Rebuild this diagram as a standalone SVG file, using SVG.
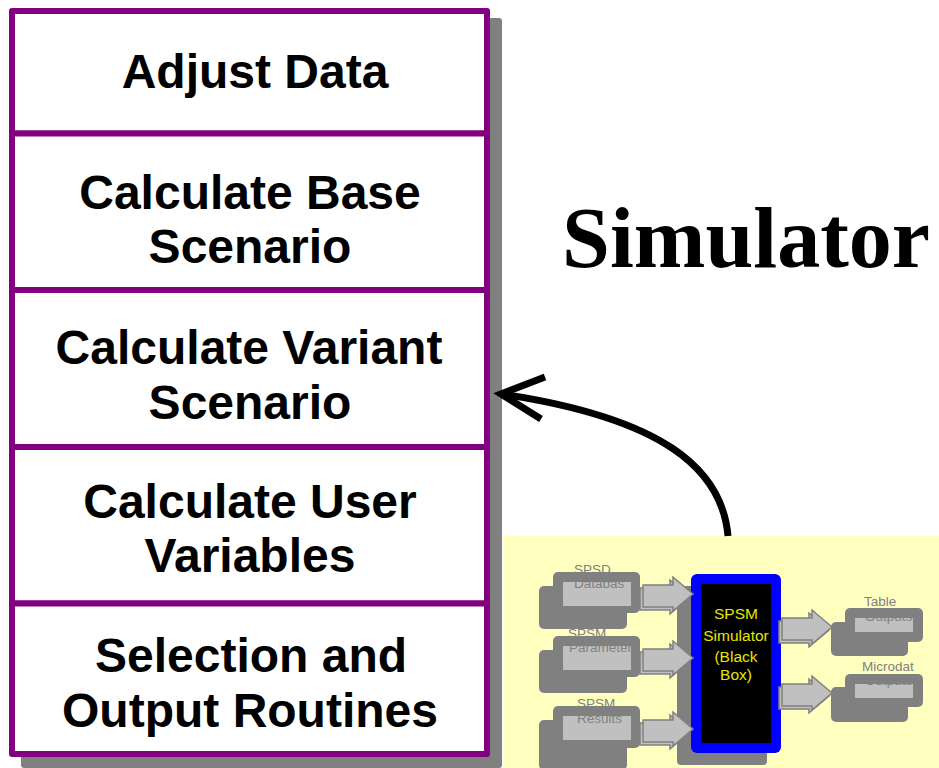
<svg xmlns="http://www.w3.org/2000/svg" width="939" height="768" viewBox="0 0 939 768">
<style>
.box{fill:#fff;stroke:#800080;stroke-width:6;stroke-linejoin:round}
.lbl{font-family:"Liberation Sans",Arial,sans-serif;font-weight:bold;font-size:48px;fill:#000;text-anchor:middle}
.title{font-family:"Liberation Serif","Times New Roman",serif;font-weight:bold;font-size:86px;fill:#000;text-anchor:middle}
.dk{fill:#808080}
.lt{fill:#C0C0C0}
.sm{font-family:"Liberation Sans",Arial,sans-serif;font-size:13.5px;fill:#808080}
.yl{font-family:"Liberation Sans",Arial,sans-serif;font-size:15.5px;fill:#E6E600;text-anchor:middle}
.blk{fill:#C0C0C0;stroke:#808080;stroke-width:1.5;stroke-linejoin:miter}
.conn{fill:none;stroke:#000;stroke-width:7}
</style>
<defs>
<path id="barrow" d="M0 0 L-20 -17 L-20 -9 L-50 -9 L-50 13 L-20 13 L-20 17 Z"/>
<g id="barrow3d">
<use href="#barrow" class="blk" transform="translate(-3,3)"/>
<use href="#barrow" class="blk"/>
</g>
</defs>
<rect width="939" height="768" fill="#fff"/>

<!-- left stack shadow -->
<rect x="21" y="18" width="481" height="750" rx="3" fill="#808080"/>

<g id="adjust-data">
<rect class="box" x="12" y="11" width="475" height="122.5"/>
<text class="lbl" x="255" y="88">Adjust Data</text>
</g>
<g id="calc-base">
<rect class="box" x="12" y="133.5" width="475" height="156.5"/>
<text class="lbl" x="250" y="209">Calculate Base</text>
<text class="lbl" x="250" y="263">Scenario</text>
</g>
<g id="calc-variant">
<rect class="box" x="12" y="290" width="475" height="157"/>
<text class="lbl" x="249" y="364">Calculate Variant</text>
<text class="lbl" x="250" y="419">Scenario</text>
</g>
<g id="calc-user">
<rect class="box" x="12" y="447" width="475" height="156.5"/>
<text class="lbl" x="250" y="518">Calculate User</text>
<text class="lbl" x="250" y="572">Variables</text>
</g>
<g id="selection-output">
<rect class="box" x="12" y="603.5" width="475" height="150.5"/>
<text class="lbl" x="251" y="672">Selection and</text>
<text class="lbl" x="250" y="727">Output Routines</text>
</g>

<g id="title">
<text class="title" x="746" y="267">Simulator</text>
</g>

<g id="simulator-thumbnail">
<rect x="503" y="536" width="436" height="232" fill="#FFFFC0"/>

<g id="in-spsd">
<rect class="dk" x="539" y="586" width="88" height="43" rx="5"/>
<rect class="dk" x="553" y="572" width="87" height="41" rx="5"/>
<rect class="lt" x="563" y="582" width="68" height="24"/>
<text class="sm" x="574" y="574">SPSD</text>
<text class="sm" x="574" y="588">Databas</text>
</g>
<g id="in-param">
<rect class="dk" x="539" y="650" width="88" height="43" rx="5"/>
<rect class="dk" x="553" y="636" width="87" height="41" rx="5"/>
<rect class="lt" x="563" y="646" width="68" height="24"/>
<text class="sm" x="568" y="638">SPSM</text>
<text class="sm" x="569" y="652">Parameter</text>
</g>
<g id="in-results">
<rect class="dk" x="539" y="720" width="88" height="50" rx="5"/>
<rect class="dk" x="553" y="706" width="87" height="42" rx="5"/>
<rect class="lt" x="563" y="716" width="68" height="24"/>
<text class="sm" x="577" y="708">SPSM</text>
<text class="sm" x="577" y="723">Results</text>
</g>

<g id="black-box">
<rect class="dk" x="677" y="586" width="90" height="179" rx="4"/>
<rect x="691" y="574" width="90" height="179" rx="6" fill="#0000FF"/>
<rect x="701" y="584" width="70" height="159" fill="#000"/>
<text class="yl" x="736" y="619">SPSM</text>
<text class="yl" x="736" y="641">Simulator</text>
<text class="yl" x="736" y="662">(Black</text>
<text class="yl" x="736" y="680">Box)</text>
</g>

<g id="out-table">
<rect class="dk" x="831" y="622" width="77" height="34" rx="5"/>
<rect class="dk" x="845" y="608" width="78" height="34" rx="5"/>
<rect class="lt" x="855" y="618" width="58" height="14"/>
<text class="sm" x="864" y="606">Table</text>
<text class="sm" x="865" y="621">Outputs</text>
</g>
<g id="out-micro">
<rect class="dk" x="831" y="687" width="77" height="35" rx="5"/>
<rect class="dk" x="845" y="674" width="78" height="33" rx="5"/>
<rect class="lt" x="855" y="684" width="58" height="14"/>
<text class="sm" x="862" y="671">Microdat</text>
<text class="sm" x="865" y="685">Outputs</text>
</g>

<g id="thumb-arrows">
<use href="#barrow3d" transform="translate(693,594)"/>
<use href="#barrow3d" transform="translate(693,658)"/>
<use href="#barrow3d" transform="translate(693,729)"/>
<use href="#barrow3d" transform="translate(832,627)"/>
<use href="#barrow3d" transform="translate(832,693)"/>
</g>
</g>

<g id="connectors">
<path class="conn" d="M728 536 C722 468 662 418 502 394"/>
<path class="conn" d="M545 377 L501 394 L541 419" stroke-linejoin="miter"/>
</g>
</svg>
